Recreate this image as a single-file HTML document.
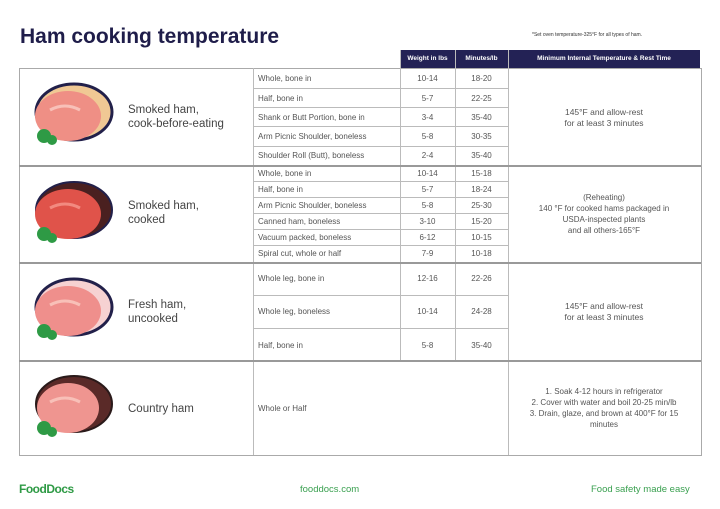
<!DOCTYPE html>
<html><head><meta charset="utf-8"><style>
body{margin:0;width:720px;height:509px;background:#fff;font-family:"Liberation Sans",sans-serif;position:relative;overflow:hidden;color:#444}
.a{position:absolute}
h1{position:absolute;left:20px;top:25px;margin:0;font-size:21px;font-weight:bold;color:#1f1d4a}
.l{position:absolute;background:#bbb}
.t{position:absolute;font-size:8px;color:#555;white-space:nowrap}
.c{text-align:center}
.n{font-size:11.5px;color:#444;line-height:14px}
</style></head><body>
<h1>Ham cooking temperature</h1>
<div class="t" style="left:532px;top:32px;font-size:5px;color:#333">*Set oven temperature-325°F for all types of ham.</div>
<div class="a" style="left:400px;top:50px;width:300px;height:18px;background:#232255"></div>
<div class="t c" style="left:400px;top:55px;width:55px;color:#fff;font-size:6.5px;font-weight:bold">Weight in lbs</div>
<div class="t c" style="left:455px;top:55px;width:53px;color:#fff;font-size:6.5px;font-weight:bold">Minutes/lb</div>
<div class="t c" style="left:508px;top:55px;width:192px;color:#fff;font-size:6.5px;font-weight:bold">Minimum Internal Temperature &amp; Rest Time</div>
<div class="a" style="left:19px;top:68px;width:681px;height:386px;border:1.5px solid #aaa"></div>
<div class="l" style="left:253px;top:68px;width:1px;height:387px"></div>
<div class="l" style="left:400px;top:50px;width:1px;height:310px"></div>
<div class="l" style="left:455px;top:50px;width:1px;height:310px"></div>
<div class="l" style="left:508px;top:50px;width:1px;height:405px"></div>
<div class="l" style="left:19px;top:165px;width:682px;height:1.5px;background:#999"></div>
<div class="l" style="left:19px;top:262px;width:682px;height:1.5px;background:#999"></div>
<div class="l" style="left:19px;top:360px;width:682px;height:1.5px;background:#999"></div>
<div class="l" style="left:253px;top:88px;width:255px;height:1px"></div>
<div class="l" style="left:253px;top:107px;width:255px;height:1px"></div>
<div class="l" style="left:253px;top:126px;width:255px;height:1px"></div>
<div class="l" style="left:253px;top:146px;width:255px;height:1px"></div>
<div class="l" style="left:253px;top:181px;width:255px;height:1px"></div>
<div class="l" style="left:253px;top:197px;width:255px;height:1px"></div>
<div class="l" style="left:253px;top:213px;width:255px;height:1px"></div>
<div class="l" style="left:253px;top:229px;width:255px;height:1px"></div>
<div class="l" style="left:253px;top:245px;width:255px;height:1px"></div>
<div class="l" style="left:253px;top:295px;width:255px;height:1px"></div>
<div class="l" style="left:253px;top:328px;width:255px;height:1px"></div>

<div class="t" style="left:258px;top:74px">Whole, bone in</div><div class="t c" style="left:400px;top:74px;width:55px">10-14</div><div class="t c" style="left:455px;top:74px;width:53px">18-20</div>
<div class="t" style="left:258px;top:94px">Half, bone in</div><div class="t c" style="left:400px;top:94px;width:55px">5-7</div><div class="t c" style="left:455px;top:94px;width:53px">22-25</div>
<div class="t" style="left:258px;top:113px">Shank or Butt Portion, bone in</div><div class="t c" style="left:400px;top:113px;width:55px">3-4</div><div class="t c" style="left:455px;top:113px;width:53px">35-40</div>
<div class="t" style="left:258px;top:132px">Arm Picnic Shoulder, boneless</div><div class="t c" style="left:400px;top:132px;width:55px">5-8</div><div class="t c" style="left:455px;top:132px;width:53px">30-35</div>
<div class="t" style="left:258px;top:151px">Shoulder Roll (Butt), boneless</div><div class="t c" style="left:400px;top:151px;width:55px">2-4</div><div class="t c" style="left:455px;top:151px;width:53px">35-40</div>
<div class="t c" style="left:508px;top:107px;width:192px;font-size:8.5px;line-height:11px">145°F and allow-rest<br>for at least 3 minutes</div>
<div class="a n" style="left:128px;top:103px">Smoked ham,<br>cook-before-eating</div>

<div class="t" style="left:258px;top:169px">Whole, bone in</div><div class="t c" style="left:400px;top:169px;width:55px">10-14</div><div class="t c" style="left:455px;top:169px;width:53px">15-18</div>
<div class="t" style="left:258px;top:185px">Half, bone in</div><div class="t c" style="left:400px;top:185px;width:55px">5-7</div><div class="t c" style="left:455px;top:185px;width:53px">18-24</div>
<div class="t" style="left:258px;top:201px">Arm Picnic Shoulder, boneless</div><div class="t c" style="left:400px;top:201px;width:55px">5-8</div><div class="t c" style="left:455px;top:201px;width:53px">25-30</div>
<div class="t" style="left:258px;top:217px">Canned ham, boneless</div><div class="t c" style="left:400px;top:217px;width:55px">3-10</div><div class="t c" style="left:455px;top:217px;width:53px">15-20</div>
<div class="t" style="left:258px;top:233px">Vacuum packed, boneless</div><div class="t c" style="left:400px;top:233px;width:55px">6-12</div><div class="t c" style="left:455px;top:233px;width:53px">10-15</div>
<div class="t" style="left:258px;top:249px">Spiral cut, whole or half</div><div class="t c" style="left:400px;top:249px;width:55px">7-9</div><div class="t c" style="left:455px;top:249px;width:53px">10-18</div>
<div class="t c" style="left:508px;top:192px;width:192px;font-size:8px;line-height:11px">(Reheating)<br>140 °F for cooked hams packaged in<br>USDA-inspected plants<br>and all others-165°F</div>
<div class="a n" style="left:128px;top:199px">Smoked ham,<br>cooked</div>

<div class="t" style="left:258px;top:274px">Whole leg, bone in</div><div class="t c" style="left:400px;top:274px;width:55px">12-16</div><div class="t c" style="left:455px;top:274px;width:53px">22-26</div>
<div class="t" style="left:258px;top:307px">Whole leg, boneless</div><div class="t c" style="left:400px;top:307px;width:55px">10-14</div><div class="t c" style="left:455px;top:307px;width:53px">24-28</div>
<div class="t" style="left:258px;top:341px">Half, bone in</div><div class="t c" style="left:400px;top:341px;width:55px">5-8</div><div class="t c" style="left:455px;top:341px;width:53px">35-40</div>
<div class="t c" style="left:508px;top:301px;width:192px;font-size:8.5px;line-height:11px">145°F and allow-rest<br>for at least 3 minutes</div>
<div class="a n" style="left:128px;top:298px">Fresh ham,<br>uncooked</div>

<div class="t" style="left:258px;top:404px">Whole or Half</div>
<div class="t c" style="left:508px;top:386px;width:192px;font-size:8px;line-height:11px">1. Soak 4-12 hours in refrigerator<br>2. Cover with water and boil 20-25 min/lb<br>3. Drain, glaze, and brown at 400°F for 15<br>minutes</div>
<div class="a n" style="left:128px;top:402px">Country ham</div>

<svg class="a" style="left:30px;top:80px" width="90" height="75"><ellipse cx="44" cy="32" rx="38" ry="28" fill="#f0c894" stroke="#22204a" stroke-width="3"/><ellipse cx="38" cy="36" rx="33" ry="25" fill="#ef8f85"/><path d="M20 30 Q35 22 50 30" stroke="#f8c0b8" stroke-width="3" fill="none"/><circle cx="14" cy="56" r="7" fill="#2e9a45"/><circle cx="22" cy="60" r="5" fill="#2e9a45"/></svg>
<svg class="a" style="left:30px;top:178px" width="90" height="75"><ellipse cx="44" cy="32" rx="38" ry="28" fill="#4a2020" stroke="#22204a" stroke-width="2"/><ellipse cx="38" cy="36" rx="33" ry="25" fill="#e0534a"/><path d="M20 30 Q35 22 50 30" stroke="#f28a80" stroke-width="3" fill="none"/><circle cx="14" cy="56" r="7" fill="#2e9a45"/><circle cx="22" cy="60" r="5" fill="#2e9a45"/></svg>
<svg class="a" style="left:30px;top:275px" width="90" height="75"><ellipse cx="44" cy="32" rx="38" ry="28" fill="#f6d2d2" stroke="#22204a" stroke-width="3"/><ellipse cx="38" cy="36" rx="33" ry="25" fill="#ef8f8c"/><path d="M20 30 Q35 22 50 30" stroke="#f8c0b8" stroke-width="3" fill="none"/><circle cx="14" cy="56" r="7" fill="#2e9a45"/><circle cx="22" cy="60" r="5" fill="#2e9a45"/></svg>
<svg class="a" style="left:30px;top:372px" width="90" height="75"><ellipse cx="44" cy="32" rx="38" ry="28" fill="#5a2a28" stroke="#2a1a1a" stroke-width="2"/><ellipse cx="38" cy="36" rx="31" ry="25" fill="#ef9590"/><path d="M20 30 Q35 22 50 30" stroke="#f8c0b8" stroke-width="3" fill="none"/><circle cx="14" cy="56" r="7" fill="#2e9a45"/><circle cx="22" cy="60" r="5" fill="#2e9a45"/></svg>

<div class="a" style="left:19px;top:482px;font-size:12px;font-weight:bold;color:#2e9a45;letter-spacing:-0.5px">FoodDocs</div>
<div class="a" style="left:300px;top:484px;font-size:9.5px;color:#3aa050">fooddocs.com</div>
<div class="a" style="left:591px;top:484px;font-size:9.5px;color:#3aa050">Food safety made easy</div>
</body></html>
